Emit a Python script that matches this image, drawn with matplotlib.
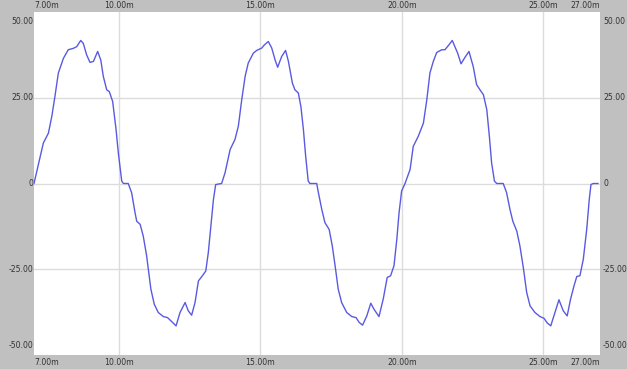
import matplotlib
matplotlib.use('Agg')
import matplotlib.pyplot as plt
import matplotlib.transforms as mtrans

# time in ms, amplitude
t = [7.00, 7.33, 7.51, 7.63, 7.74, 7.86, 8.04, 8.21, 8.39, 8.51, 8.65, 8.74,
     8.86, 8.98, 9.10, 9.25, 9.36, 9.45, 9.57, 9.66, 9.78, 9.90, 9.98, 10.10,
     10.16, 10.33,
     10.45, 10.57, 10.63, 10.75, 10.86, 10.98, 11.04, 11.13, 11.25, 11.39,
     11.57, 11.72, 11.87, 12.02, 12.16, 12.34, 12.45, 12.57, 12.69, 12.81,
     12.95, 13.07, 13.16, 13.25, 13.34, 13.42, 13.63,
     13.75, 13.93, 14.10, 14.22, 14.34, 14.46, 14.57, 14.75, 14.87, 15.05,
     15.14, 15.28, 15.40, 15.52, 15.61, 15.75, 15.89, 15.99, 16.13, 16.22,
     16.34, 16.43, 16.52, 16.60, 16.69, 16.75, 16.99,
     17.05, 17.17, 17.28, 17.43, 17.54, 17.64, 17.75, 17.87, 18.05, 18.23,
     18.38, 18.49, 18.61, 18.76, 18.90, 19.01, 19.19, 19.34, 19.48, 19.60,
     19.72, 19.82, 19.90, 19.99, 20.11,
     20.29, 20.40, 20.58, 20.76, 20.88, 20.99, 21.11, 21.23, 21.41, 21.52,
     21.66, 21.78, 21.97, 22.09, 22.23, 22.37, 22.52, 22.64, 22.76, 22.88,
     23.00, 23.09, 23.17, 23.27, 23.35, 23.41, 23.58,
     23.70, 23.82, 23.92, 24.06, 24.17, 24.29, 24.41, 24.53, 24.70, 24.88,
     25.02, 25.14, 25.26, 25.41, 25.55, 25.70, 25.84, 25.96, 26.08, 26.18,
     26.29, 26.41, 26.53, 26.62, 26.68, 26.76, 26.93]
v = [0, 11.8, 14.7, 19.6, 25.4, 32.2, 36.5, 39.0, 39.4, 39.9, 41.7, 40.9,
     37.5, 35.3, 35.6, 38.5, 36.0, 31.2, 27.3, 26.8, 23.9, 15.7, 8.9, 0.7,
     0, 0,
     -2.7, -8.5, -11.0, -11.9, -15.3, -21.1, -25.0, -30.8, -35.2, -37.6,
     -38.8, -39.1, -40.3, -41.5, -37.6, -34.7, -37.1, -38.4, -34.7, -28.4,
     -26.9, -25.5, -20.1, -12.4, -4.7, -0.3, 0,
     3.1, 9.9, 12.8, 16.7, 24.4, 31.2, 35.1, 38.0, 38.8, 39.5,
     40.4, 41.4, 39.5, 36.0, 33.9, 37.0, 38.8, 35.6, 29.3, 27.3,
     26.4, 22.5, 15.7, 7.9, 0.7, 0, 0,
     -2.7, -7.6, -11.4, -13.4, -18.2, -24.0, -30.8, -34.7, -37.6, -38.8,
     -39.1, -40.5, -41.3, -38.6, -34.9, -36.6, -38.8, -33.7, -27.4, -26.9,
     -24.0, -16.3, -8.5, -2.2, 0,
     4.1, 10.8, 13.8, 17.6, 24.4, 32.2, 35.6, 38.2, 39.0, 39.0,
     40.4, 41.7, 38.0, 34.9, 36.8, 38.5, 34.1, 28.8, 27.3, 25.9,
     21.5, 13.8, 6.0, 0.7, 0, 0, 0,
     -2.7, -7.6, -11.0, -13.9, -18.2, -24.5, -31.8, -35.7, -37.6, -38.8,
     -39.3, -40.7, -41.5, -37.6, -33.9, -37.1, -38.6, -33.7, -29.9, -27.1,
     -26.9, -22.1, -13.4, -4.7, -0.3, 0, 0]

x_ticks = [7, 10, 15, 20, 25, 27]
x_labels = ['7.00m', '10.00m', '15.00m', '20.00m', '25.00m', '27.00m']
y_ticks = [50, 25, 0, -25, -50]
y_labels = ['50.00', '25.00', '0', '-25.00', '-50.00']

fig = plt.figure(figsize=(6.27, 3.69), dpi=100, facecolor='#c0c0c0')
ax = fig.add_axes([34/627, 14/369, 566/627, 343/369])
ax.set_facecolor('white')
ax.plot(t, v, color='#5a5ae0', lw=1.0)
ax.set_xlim(7, 27)
ax.set_ylim(-50, 50)

for x in x_ticks[1:-1]:
    ax.axvline(x, color='#dcdcdc', lw=1.0, zorder=0)
for y in y_ticks[1:-1]:
    ax.axhline(y, color='#dcdcdc', lw=1.0, zorder=0)

ax.set_xticks([])
ax.set_yticks([])
for s in ax.spines.values():
    s.set_visible(False)

fs = 5.6
col = '#333333'
xt = mtrans.blended_transform_factory(ax.transData, fig.transFigure)
for i, (x, lab) in enumerate(zip(x_ticks, x_labels)):
    ha = 'left' if i == 0 else ('right' if i == len(x_ticks) - 1 else 'center')
    ax.text(x, 1 - 6/369, lab, transform=xt, ha=ha, va='center',
            fontsize=fs, color=col)
    ax.text(x, 6.5/369, lab, transform=xt, ha=ha, va='center',
            fontsize=fs, color=col)

yt = mtrans.blended_transform_factory(fig.transFigure, ax.transData)
for i, (y, lab) in enumerate(zip(y_ticks, y_labels)):
    va = 'top' if i == 0 else ('bottom' if i == len(y_ticks) - 1 else 'center')
    yy = y - 1.5 if i == 0 else (y + 1.5 if i == len(y_ticks) - 1 else y)
    ax.text(33/627, yy, lab, transform=yt, ha='right', va=va,
            fontsize=fs, color=col)
    ax.text(603/627, yy, lab, transform=yt, ha='left', va=va,
            fontsize=fs, color=col)

fig.savefig('out.png', dpi=100, facecolor=fig.get_facecolor())
